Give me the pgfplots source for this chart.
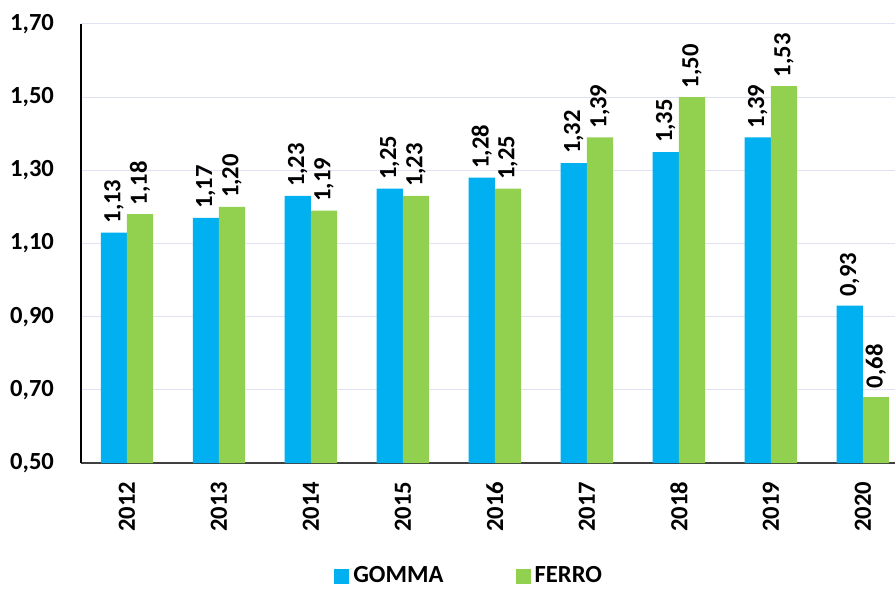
\documentclass[border=0pt]{standalone}
\usepackage{fontspec}
\setmainfont{Carlito}
\usepackage{pgfplots}
\pgfplotsset{compat=1.18}
\definecolor{gomma}{RGB}{0,176,240}
\definecolor{ferro}{RGB}{146,208,80}
\definecolor{gridc}{RGB}{222,226,242}
\begin{document}
\begin{tikzpicture}[font=\fontsize{12.3}{14}\selectfont\bfseries]
\begin{axis}[
  scale only axis, width=407pt, height=219.5pt,
  ybar=0pt, bar width=0.285,
  xmin=-0.5, xmax=8.35, ymin=0.5, ymax=1.7,
  ytick={0.5,0.7,...,1.71},
  xtick={0,...,8},
  xticklabels={2012,2013,2014,2015,2016,2017,2018,2019,2020},
  xticklabel style={rotate=90, anchor=east, xshift=-6pt},
  yticklabel style={xshift=-10pt, /pgf/number format/.cd, use comma, fixed, fixed zerofill, precision=2},
  /pgf/number format/assume math mode=true,
  major tick length=0pt,
  axis x line*=bottom, axis y line*=left,
  x axis line style={draw=black!75, line width=1pt, -},
  y axis line style={draw=black, line width=1pt, -},
  ymajorgrids, major grid style={draw=gridc, line width=0.5pt},
  clip=false,
  nodes near coords,
  every node near coord/.append style={rotate=90, anchor=west, xshift=1pt,
    /pgf/number format/.cd, use comma, fixed, fixed zerofill, precision=2},
  legend columns=2,
  legend style={draw=none, fill=none, at={(0.478,-0.258)}, anchor=center,
    /tikz/every even column/.append style={column sep=34pt}},
  legend image code/.code={\fill[#1] (0pt,-3.8pt) rectangle (7.6pt,3.8pt);},
]
\addplot[fill=gomma, draw=none] coordinates {(0,1.13) (1,1.17) (2,1.23) (3,1.25) (4,1.28) (5,1.32) (6,1.35) (7,1.39) (8,0.93)};
\addlegendentry{GOMMA}
\addplot[fill=ferro, draw=none] coordinates {(0,1.18) (1,1.20) (2,1.19) (3,1.23) (4,1.25) (5,1.39) (6,1.50) (7,1.53) (8,0.68)};
\addlegendentry{FERRO}
\end{axis}
\pgfresetboundingbox
\path (-40.5pt,-66pt) rectangle (407pt,231.5pt);
\end{tikzpicture}
\end{document}
